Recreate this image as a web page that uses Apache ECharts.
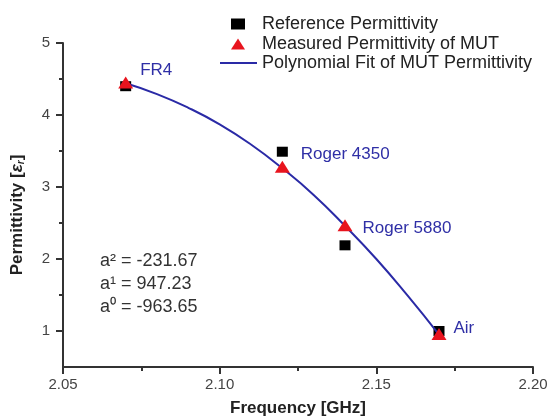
<!DOCTYPE html>
<html>
<head>
<meta charset="utf-8">
<script src="https://cdn.jsdelivr.net/npm/echarts@6/dist/echarts.min.js"></script>
<style>
  html, body { margin: 0; padding: 0; background: #fff; }
  #chart { width: 547px; height: 420px; }
</style>
</head>
<body>
<div id="chart"></div>
<script>
// reference permittivity (black squares)
const refFreq = [2.07, 2.12, 2.14, 2.17]
const refPerm = [4.40, 3.49, 2.19, 1.00]
// measured permittivity of MUT (red triangles)
const mutFreq = [2.07, 2.12, 2.14, 2.17]
const mutPerm = [4.45, 3.28, 2.47, 0.96]
const mutNames = ['FR4', 'Roger 4350', 'Roger 5880', 'Air']
// polynomial fit curve
const fitFreq = [2.07, 2.08, 2.09, 2.10, 2.11, 2.12, 2.13, 2.14, 2.15, 2.16, 2.17]
const fitPerm = [4.44, 4.29, 4.10, 3.87, 3.59, 3.26, 2.89, 2.46, 2.00, 1.49, 0.95]
// axis ticks
const xTicks = [2.05, 2.10, 2.15, 2.20]
const yTicks = [1, 2, 3, 4, 5]
const yMinorTicks = [1.5, 2.5, 3.5, 4.5]
const coefLines = ['a² = -231.67', 'a¹ = 947.23', 'a⁰ = -963.65']

const font = 'Liberation Sans, Arial, sans-serif'
const fitColor = '#2a2aa6'
const labelOffsets = [[2, -12], [6, -13], [5, 3], [2, -6]]

const chart = echarts.init(document.getElementById('chart'))

chart.setOption({
  animation: false,
  textStyle: { fontFamily: font },
  grid: { left: 63, right: 14, top: 43, bottom: 53, outerBoundsMode: 'none', containLabel: false },
  legend: [
    {
      data: ['Reference Permittivity', 'Measured Permittivity of MUT'],
      orient: 'vertical',
      left: 226,
      top: 10,
      itemWidth: 14,
      itemHeight: 11,
      itemGap: 2,
      textStyle: { fontSize: 18, lineHeight: 18, color: '#222', padding: [0, 0, 0, 12] }
    },
    {
      data: [{ name: 'Polynomial Fit of MUT Permittivity', icon: 'rect', itemStyle: { color: fitColor } }],
      left: 215,
      top: 49,
      itemWidth: 37,
      itemHeight: 2,
      textStyle: { fontSize: 18, lineHeight: 18, color: '#222' }
    }
  ],
  xAxis: {
    type: 'value',
    min: 2.05,
    max: 2.20,
    interval: 0.05,
    name: 'Frequency [GHz]',
    nameLocation: 'middle',
    nameGap: 33,
    nameTextStyle: { fontSize: 17, fontWeight: 'bold', color: '#222' },
    axisLine: { lineStyle: { color: '#333', width: 2 } },
    axisTick: { length: 7, lineStyle: { width: 2 } },
    minorTick: { show: true, splitNumber: 2, length: 4, lineStyle: { color: '#333', width: 2 } },
    axisLabel: {
      margin: 10, fontSize: 15, color: '#444',
      customValues: xTicks,
      formatter: v => v.toFixed(2)
    },
    splitLine: { show: false }
  },
  yAxis: [
    {
      type: 'value',
      min: 0.5,
      max: 5,
      name: 'Permittivity [{e|ε}{s|r}]',
      nameLocation: 'middle',
      nameGap: 37,
      nameTextStyle: {
        fontSize: 17, fontWeight: 'bold', color: '#222',
        padding: [0, 20, 0, 0],
        rich: {
          e: { fontSize: 17, fontStyle: 'italic', color: '#222' },
          s: { fontSize: 10, fontStyle: 'italic', color: '#222', verticalAlign: 'bottom', padding: [8, 0, 0, 0] }
        }
      },
      axisLine: { show: true, lineStyle: { color: '#333', width: 2 } },
      axisTick: { show: true, length: 7, customValues: yTicks, lineStyle: { width: 2 } },
      axisLabel: { margin: 13, fontSize: 15, color: '#444', customValues: yTicks },
      splitLine: { show: false }
    },
    {
      type: 'value',
      min: 0.5,
      max: 5,
      position: 'left',
      axisLine: { show: false },
      axisTick: { show: true, length: 4, customValues: yMinorTicks, lineStyle: { color: '#333', width: 2 } },
      axisLabel: { show: false },
      splitLine: { show: false }
    }
  ],
  series: [
    {
      name: 'Polynomial Fit of MUT Permittivity',
      type: 'line',
      smooth: true,
      symbol: 'none',
      z: 3,
      lineStyle: { color: fitColor, width: 2 },
      itemStyle: { color: fitColor },
      data: fitFreq.map((f, i) => [f, fitPerm[i]])
    },
    {
      name: 'Reference Permittivity',
      type: 'scatter',
      symbol: 'rect',
      symbolSize: [11, 10],
      z: 2,
      itemStyle: { color: '#000', opacity: 1 },
      data: refFreq.map((f, i) => [f, refPerm[i]])
    },
    {
      name: 'Measured Permittivity of MUT',
      type: 'scatter',
      symbol: 'triangle',
      symbolSize: [15, 12],
      z: 4,
      itemStyle: { color: '#e8141e', opacity: 1 },
      label: {
        show: true,
        position: 'right',
        distance: 5,
        formatter: '{b}',
        fontSize: 17,
        color: '#2f2fa6'
      },
      data: mutFreq.map((f, i) => ({
        name: mutNames[i],
        value: [f, mutPerm[i]],
        label: { offset: labelOffsets[i] }
      }))
    }
  ],
  graphic: coefLines.map((t, i) => ({
    type: 'text',
    left: 100,
    top: 252 + i * 23,
    style: { text: t, fontSize: 18, fill: '#333', fontFamily: font }
  }))
})
</script>
</body>
</html>
